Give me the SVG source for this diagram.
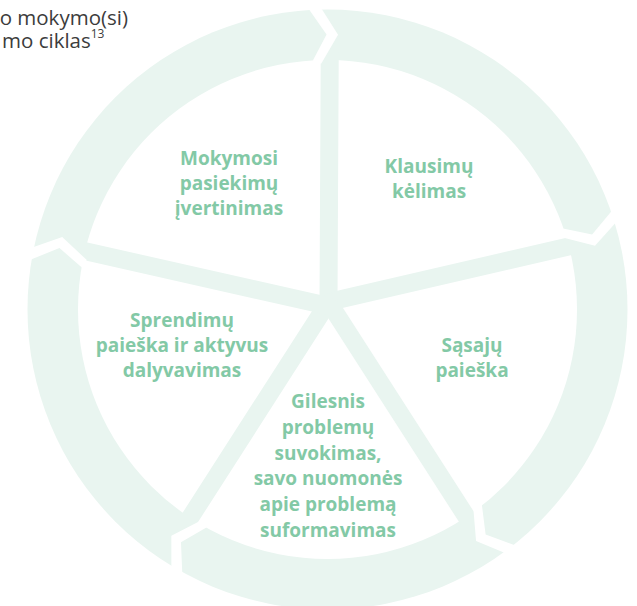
<svg xmlns="http://www.w3.org/2000/svg" xmlns:xlink="http://www.w3.org/1999/xlink" width="637" height="606" viewBox="0 0 637 606">
  <style>
    .ring { fill: #e9f5f0; }
    .spoke { stroke: #e9f5f0; stroke-width: 18; stroke-linecap: round; fill: none; }
    .gap { fill: #ffffff; }
    .lbl { font-family: "Open Sans", "Liberation Sans", sans-serif; font-weight: 700; font-size: 19px; fill: #83c9a6; text-anchor: middle; }
    .title { font-family: "Open Sans", "Liberation Sans", sans-serif; font-weight: 400; font-size: 20.5px; fill: #3c3c3c; }
    .sup { font-size: 12px; }
  </style>
  <defs>
    <polygon id="gap" points="302.99,-2.03 274.57,15.35 245.99,-1.88 245.86,8.42 273.69,26.83 302.81,10.66"/>
  </defs>
  <rect width="637" height="606" fill="#ffffff"/>

  <g id="title">
    <text class="title" x="128" y="25" text-anchor="end">o mokymo(si)</text>
    <text class="title" x="2" y="48">mo ciklas<tspan class="sup" dy="-10">13</tspan></text>
  </g>

  <g id="cycle">
    <circle class="ring" cx="327.5" cy="309.5" r="300"/>
    <circle cx="327.5" cy="309.5" r="249.5" fill="#ffffff"/>
  </g>

  <g id="connectors">
    <line class="spoke" x1="328.5" y1="302" x2="329.75" y2="51.5"/>
    <line class="spoke" x1="328.5" y1="302" x2="577.2" y2="244.5"/>
    <line class="spoke" x1="328.5" y1="302" x2="471.0" y2="523.9"/>
    <line class="spoke" x1="328.5" y1="302" x2="185.5" y2="524.9"/>
    <line class="spoke" x1="328.5" y1="306" x2="76.6" y2="249.3"/>
  </g>

  <g id="arrow-gaps">
    <use xlink:href="#gap" class="gap" transform="translate(327.5 309.5) rotate(266.6)"/>
    <use xlink:href="#gap" class="gap" transform="translate(327.5 309.5) rotate(341.0)"/>
    <use xlink:href="#gap" class="gap" transform="translate(327.5 309.5) rotate(51.7)"/>
    <use xlink:href="#gap" class="gap" transform="translate(327.5 309.5) rotate(119.0)"/>
    <use xlink:href="#gap" class="gap" transform="translate(327.5 309.5) rotate(189.7)"/>
  </g>

  <g id="node-vertinimas">
    <text class="lbl" x="229" y="165">Mokymosi</text>
    <text class="lbl" x="229" y="190">pasiekimų</text>
    <text class="lbl" x="229" y="215">įvertinimas</text>
  </g>
  <g id="node-klausimai">
    <text class="lbl" x="429" y="173">Klausimų</text>
    <text class="lbl" x="429" y="198">kėlimas</text>
  </g>
  <g id="node-sasajos">
    <text class="lbl" x="472" y="352">Sąsajų</text>
    <text class="lbl" x="472" y="377">paieška</text>
  </g>
  <g id="node-suvokimas">
    <text class="lbl" x="328" y="408">Gilesnis</text>
    <text class="lbl" x="328" y="434">problemų</text>
    <text class="lbl" x="328" y="459.5">suvokimas,</text>
    <text class="lbl" x="328" y="485">savo nuomonės</text>
    <text class="lbl" x="328" y="511">apie problemą</text>
    <text class="lbl" x="328" y="536.5">suformavimas</text>
  </g>
  <g id="node-sprendimai">
    <text class="lbl" x="182" y="327">Sprendimų</text>
    <text class="lbl" x="182" y="352">paieška ir aktyvus</text>
    <text class="lbl" x="182" y="377">dalyvavimas</text>
  </g>
</svg>
